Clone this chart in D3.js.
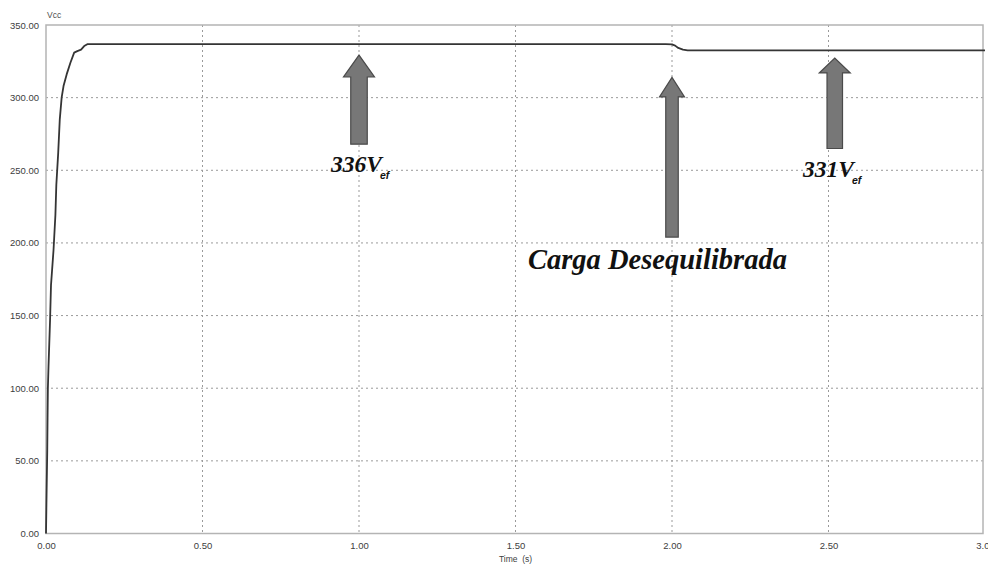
<!DOCTYPE html>
<html>
<head>
<meta charset="utf-8">
<script src="https://cdn.jsdelivr.net/npm/d3@7"></script>
<style>
  html, body { margin: 0; padding: 0; background: #fff; }
  svg { display: block; }
</style>
</head>
<body>
<svg id="chart" width="988" height="564"></svg>
<script>
// ---- data ----
const timeS = [0, 0.002, 0.004, 0.005, 0.006, 0.008, 0.013, 0.016, 0.024, 0.030, 0.033, 0.039, 0.044, 0.050,
  0.056, 0.066, 0.078, 0.090, 0.100, 0.112, 0.122, 0.132, 0.50, 1.00, 1.50, 1.98, 2.00, 2.01, 2.02, 2.035, 2.05, 2.50, 3.00];
const vcc = [0, 30, 57, 80, 100, 115, 147, 171, 195, 219, 240, 262, 285, 300,
  308, 316, 324, 331, 332, 333, 335.5, 336.8, 336.8, 336.8, 336.8, 336.8, 336.6, 335.8, 334.2, 333, 332.6, 332.6, 332.6];
const xTicks = [0, 0.5, 1.0, 1.5, 2.0, 2.5, 3.0];
const yTicks = [0, 50, 100, 150, 200, 250, 300, 350];
const yLabel = "Vcc";
const xLabel = "Time  (s)";
// annotations: arrow at time t pointing up (tip, head base, tail in volts) and its text
const arrows = [
  { t: 1.00, tip: 329.3, base: 314.2, tail: 268, shaft: 16.5, head: 31 },
  { t: 2.00, tip: 314, base: 300.5, tail: 204, shaft: 12.5, head: 25 },
  { t: 2.52, tip: 327.3, base: 317, tail: 265, shaft: 15.5, head: 31 }
];
const notes = [
  { main: "336V", sub: "ef", x: 331, y: 172 },
  { main: "331V", sub: "ef", x: 803, y: 177 },
  { main: "Carga Desequilibrada", sub: "", x: 528, y: 269 }
];

// ---- layout ----
const svg = d3.select("#chart");
const pLeft = 46, pRight = 983, pTop = 25, pBottom = 533.5;
const x = d3.scaleLinear().domain([0, 3]).range([pLeft, 985]);
const y = d3.scaleLinear().domain([0, 350]).range([pBottom, pTop]);

const fontSans = "'Liberation Sans', Arial, sans-serif";
const fontSerif = "'Liberation Serif', 'Times New Roman', serif";

// grid
const grid = svg.append("g");
grid.selectAll("line.v").data(xTicks.filter(d => d > 0 && d < 3)).enter().append("line")
  .attr("x1", d => x(d)).attr("x2", d => x(d)).attr("y1", pTop).attr("y2", pBottom)
  .attr("stroke", "#9a9a9a").attr("stroke-width", 1).attr("stroke-dasharray", "2,3");
grid.selectAll("line.h").data(yTicks.filter(d => d > 0 && d < 350)).enter().append("line")
  .attr("x1", pLeft).attr("x2", pRight).attr("y1", d => y(d)).attr("y2", d => y(d))
  .attr("stroke", "#9a9a9a").attr("stroke-width", 1).attr("stroke-dasharray", "2,3");

// frame
svg.append("rect").attr("x", pLeft).attr("y", pTop).attr("width", pRight - pLeft).attr("height", pBottom - pTop)
  .attr("fill", "none").attr("stroke", "#b4b4b4").attr("stroke-width", 1.5);

// axes (labels only)
const xAxis = d3.axisBottom(x).tickValues(xTicks).tickFormat(d3.format(".2f")).tickSize(0).tickPadding(9);
const gx = svg.append("g").attr("transform", `translate(0,${pBottom})`).call(xAxis);
gx.select(".domain").remove();
gx.selectAll("text").attr("font-family", fontSans).attr("font-size", 9.5).attr("fill", "#404040");

const yAxis = d3.axisLeft(y).tickValues(yTicks).tickFormat(d3.format(".2f")).tickSize(0).tickPadding(7);
const gy = svg.append("g").attr("transform", `translate(${pLeft},0)`).call(yAxis);
gy.select(".domain").remove();
gy.selectAll("text").attr("font-family", fontSans).attr("font-size", 9.5).attr("fill", "#404040");

svg.append("text").attr("x", 47).attr("y", 18).text(yLabel)
  .attr("font-family", fontSans).attr("font-size", 8.5).attr("fill", "#505050");
svg.append("text").attr("x", (pLeft + 985) / 2).attr("y", 562).attr("text-anchor", "middle")
  .text(xLabel).attr("font-family", fontSans).attr("font-size", 8.5).attr("fill", "#404040")
  .style("white-space", "pre");

// data line
const pts = timeS.map((t, i) => [t, vcc[i]]);
svg.append("path").datum(pts)
  .attr("d", d3.line().x(d => x(d[0])).y(d => y(d[1])))
  .attr("fill", "none").attr("stroke", "#353535").attr("stroke-width", 1.8).attr("stroke-linejoin", "round");

// arrows
svg.selectAll("path.arrow").data(arrows).enter().append("path")
  .attr("d", a => {
    const cx = x(a.t), s = a.shaft / 2, h = a.head / 2;
    return `M${cx - s},${y(a.tail)} L${cx - s},${y(a.base)} L${cx - h},${y(a.base)} L${cx},${y(a.tip)} ` +
      `L${cx + h},${y(a.base)} L${cx + s},${y(a.base)} L${cx + s},${y(a.tail)} Z`;
  })
  .attr("fill", "#777777").attr("stroke", "#4a4a4a").attr("stroke-width", 1.2);

// annotation texts
notes.forEach(n => {
  const t = svg.append("text").attr("x", n.x).attr("y", n.y)
    .attr("font-family", fontSerif).attr("font-style", "italic").attr("font-weight", "bold")
    .attr("font-size", n.sub ? 23.5 : 28.5).attr("fill", "#111");
  t.append("tspan").text(n.main);
  if (n.sub) t.append("tspan").text(n.sub).attr("font-family", fontSans).attr("font-size", 10.5).attr("dy", 7).attr("dx", -2);
});
</script>
</body>
</html>
